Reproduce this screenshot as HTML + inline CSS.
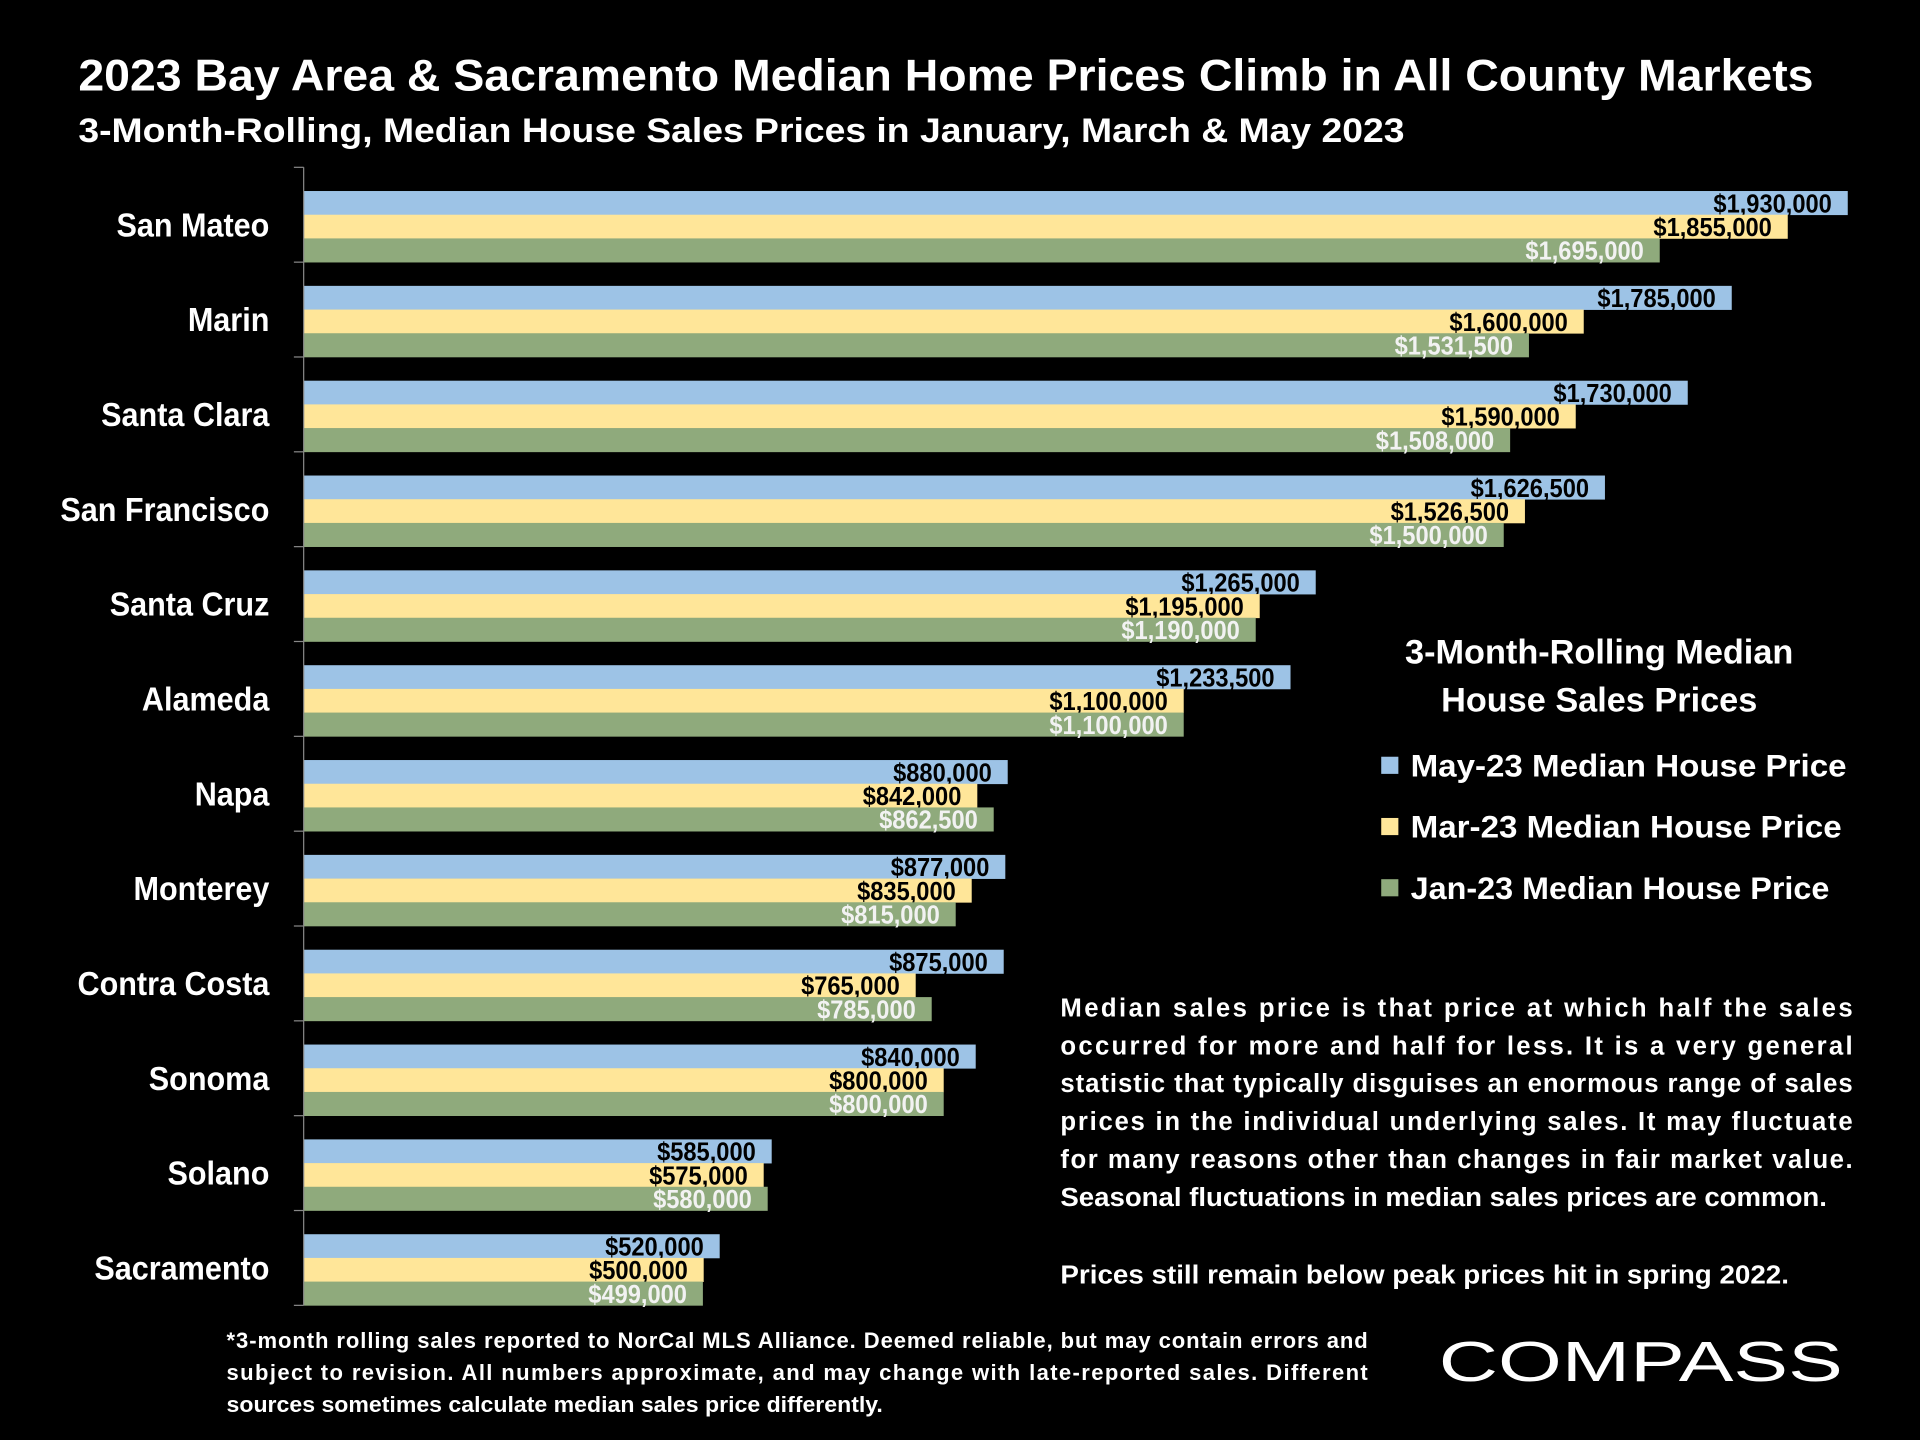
<!DOCTYPE html>
<html><head><meta charset="utf-8"><style>
html,body{margin:0;padding:0;background:#000;}
svg{display:block;font-family:"Liberation Sans",sans-serif;}
</style></head><body>
<svg id="chart" width="1920" height="1440" viewBox="0 0 1568 1176" xmlns="http://www.w3.org/2000/svg">
<rect x="0" y="0" width="1568" height="1176" fill="#000"/>
<text x="64" y="74" font-size="36" font-weight="bold" fill="#fff" textLength="1417" lengthAdjust="spacingAndGlyphs">2023 Bay Area &amp; Sacramento Median Home Prices Climb in All County Markets</text>
<text x="64" y="116" font-size="28" font-weight="bold" fill="#fff" textLength="1083" lengthAdjust="spacingAndGlyphs">3-Month-Rolling, Median House Sales Prices in January, March &amp; May 2023</text>
<g id="plot"></g>

<text x="1306" y="542" font-size="28" font-weight="bold" fill="#fff" text-anchor="middle">3-Month-Rolling Median</text>
<text x="1306" y="581" font-size="28" font-weight="bold" fill="#fff" text-anchor="middle">House Sales Prices</text>
<g><rect x="1128" y="618" width="14" height="14" fill="#9dc3e6"/><text x="1152" y="634" font-size="26" font-weight="bold" fill="#fff" textLength="356" lengthAdjust="spacingAndGlyphs">May-23 Median House Price</text></g>
<g><rect x="1128" y="668" width="14" height="14" fill="#ffe699"/><text x="1152" y="684" font-size="26" font-weight="bold" fill="#fff" textLength="352" lengthAdjust="spacingAndGlyphs">Mar-23 Median House Price</text></g>
<g><rect x="1128" y="718" width="14" height="14" fill="#8faa7c"/><text x="1152" y="734" font-size="26" font-weight="bold" fill="#fff" textLength="342" lengthAdjust="spacingAndGlyphs">Jan-23 Median House Price</text></g>

<g font-size="21" font-weight="bold" fill="#fff">
<text x="866" y="830" textLength="647" lengthAdjust="spacing">Median sales price is that price at which half the sales</text>
<text x="866" y="861" textLength="647" lengthAdjust="spacing">occurred for more and half for less. It is a very general</text>
<text x="866" y="892" textLength="647" lengthAdjust="spacing">statistic that typically disguises an enormous range of sales</text>
<text x="866" y="923" textLength="647" lengthAdjust="spacing">prices in the individual underlying sales. It may fluctuate</text>
<text x="866" y="954" textLength="647" lengthAdjust="spacing">for many reasons other than changes in fair market value.</text>
<text x="866" y="985" textLength="626" lengthAdjust="spacingAndGlyphs">Seasonal fluctuations in median sales prices are common.</text>
<text x="866" y="1048" textLength="595" lengthAdjust="spacingAndGlyphs">Prices still remain below peak prices hit in spring 2022.</text>
</g>
<g font-size="18" font-weight="bold" fill="#fff">
<text x="185" y="1101" textLength="932" lengthAdjust="spacing">*3-month rolling sales reported to NorCal MLS Alliance. Deemed reliable, but may contain errors and</text>
<text x="185" y="1127" textLength="932" lengthAdjust="spacing">subject to revision. All numbers approximate, and may change with late-reported sales.  Different</text>
<text x="185" y="1153" textLength="536" lengthAdjust="spacingAndGlyphs">sources sometimes calculate median sales price differently.</text>
</g>
<text x="1175" y="1128" font-size="46" fill="#fff" textLength="330" lengthAdjust="spacingAndGlyphs">COMPASS</text>

<script>
const categories = ["San Mateo","Marin","Santa Clara","San Francisco","Santa Cruz","Alameda","Napa","Monterey","Contra Costa","Sonoma","Solano","Sacramento"];
const may23 = [1930000,1785000,1730000,1626500,1265000,1233500,880000,877000,875000,840000,585000,520000];
const mar23 = [1855000,1600000,1590000,1526500,1195000,1100000,842000,835000,765000,800000,575000,500000];
const jan23 = [1695000,1531500,1508000,1500000,1190000,1100000,862500,815000,785000,800000,580000,499000];

const NS = "http://www.w3.org/2000/svg";
const plot = document.getElementById("plot");
const x0 = 248, pxPer = 1261/1930000;
const top0 = 156, step = 77.45, bh = 19.35;
function xScale(v){ return x0 + v*pxPer; }
function mk(tag, attrs){ const e = document.createElementNS(NS, tag); for (const k in attrs) e.setAttribute(k, attrs[k]); plot.appendChild(e); return e; }
function fmt(v){ return "$" + v.toLocaleString("en-US"); }

const series = [
  {vals: may23, fill: "#9dc3e6", txt: "#000", key: "may"},
  {vals: mar23, fill: "#ffe699", txt: "#000", key: "mar"},
  {vals: jan23, fill: "#8faa7c", txt: "#f2f2f2", key: "jan"}
];

categories.forEach((c, i) => {
  const gy = top0 + i*step;
  series.forEach((s, j) => {
    const y = gy + j*bh;
    const r = mk("rect", {x: x0, y: y, width: xScale(s.vals[i]) - x0, height: bh + 0.3, fill: s.fill});
    
    
    const t = mk("text", {x: xScale(s.vals[i]) - 13, y: y + bh - 2, "font-size": 21, "font-weight": "bold", fill: s.txt, "text-anchor": "end"});
    t.textContent = fmt(s.vals[i]);
    
    
    const w = t.getComputedTextLength();
    t.setAttribute('textLength', (w*0.92).toFixed(1));
    t.setAttribute('lengthAdjust', 'spacingAndGlyphs');
  });
  const l = mk("text", {x: 220, y: gy + 1.5*bh + 8, "font-size": 27, "font-weight": "bold", fill: "#fff", "text-anchor": "end"});
  l.textContent = c;
  
  
  const lw = l.getComputedTextLength();
  l.setAttribute('textLength', (lw*0.925).toFixed(1));
  l.setAttribute('lengthAdjust', 'spacingAndGlyphs');
});
for (let i = 0; i <= categories.length; i++) {
  const y = top0 - step/4 + i*step;
  const tk = mk("line", {x1: 240, x2: 248, y1: y, y2: y, stroke: "#888", "stroke-width": 1});
  
  
}
const ax = mk("line", {x1: 248, x2: 248, y1: top0 - step/4, y2: top0 - step/4 + categories.length*step, stroke: "#888", "stroke-width": 1});


</script>
</svg>
</body></html>
